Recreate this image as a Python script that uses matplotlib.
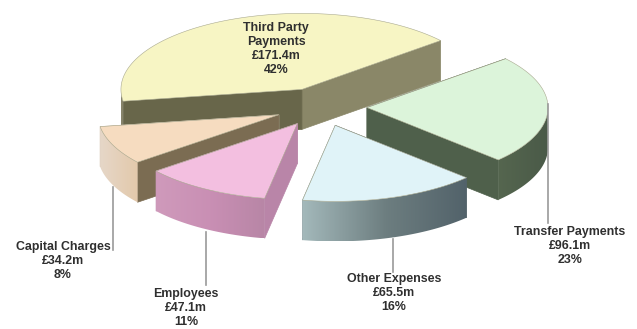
import numpy as np
import matplotlib
matplotlib.use("Agg")
import matplotlib.pyplot as plt
from matplotlib.colors import LinearSegmentedColormap
from matplotlib.patches import Polygon

categories = ["Third Party\nPayments", "Capital Charges", "Employees", "Other Expenses", "Transfer Payments"]
amounts = [171.4, 34.2, 47.1, 65.5, 96.1]
shares = [42, 8, 11, 16, 23]

top_colors = ["#f7f5c4", "#f6dcc0", "#f3bfe0", "#e0f3f8", "#dcf4da"]
# colours across the curved rim, left to right
rim_colors = [
    ["#86836a", "#86836a"],
    ["#e6d7c8", "#e3c9ab"],
    ["#cf9abb", "#c98fb4", "#b886a6"],
    ["#a3b8ba", "#6d7e80", "#52626a"],
    ["#55664f", "#4a5a48"],
]
# colours of the two straight cut faces: (clockwise edge, anticlockwise edge)
cut_colors = [
    ["#8a8768", "#68664a"],
    ["#d8c8b4", "#7b6c52"],
    ["#c79ab8", "#b985a8"],
    ["#8fa3a6", "#55656a"],
    ["#4f604b", "#4f604b"],
]
draw_order = [0, 4, 1, 2, 3]

center = np.array([321.0, 107.0])
rx, ry = 181.0, 76.0
depth = 40.0
explode = 46.0
start_angle = 40.0

fig = plt.figure(figsize=(6.37, 3.29), dpi=100)
ax = fig.add_axes([0, 0, 1, 1])
ax.set_xlim(0, 637)
ax.set_ylim(329, 0)
ax.axis("off")

total = sum(amounts)
spans = [a / total * 360 for a in amounts]
starts = start_angle + np.concatenate([[0], np.cumsum(spans)[:-1]])


def project(origin, angle_deg):
    t = np.radians(angle_deg)
    return origin + np.column_stack([rx * np.cos(t), -ry * np.sin(t)])


def gradient_face(points, colors):
    # horizontal gradient clipped to a polygon
    poly = Polygon(points, closed=True, fc="none", ec="none")
    ax.add_patch(poly)
    cmap = LinearSegmentedColormap.from_list("face", colors)
    x0, x1 = points[:, 0].min(), points[:, 0].max()
    y0, y1 = points[:, 1].min(), points[:, 1].max()
    im = ax.imshow(np.linspace(0, 1, 128)[None, :], cmap=cmap, aspect="auto",
                   extent=[x0, x1, y1, y0], zorder=poly.get_zorder())
    im.set_clip_path(poly)
    ax.set_xlim(0, 637)
    ax.set_ylim(329, 0)


def draw_wedge(i):
    mid = starts[i] + spans[i] / 2
    t = np.radians(mid)
    apex = center + explode * np.array([np.cos(t), -np.sin(t) * ry / rx])
    angles = np.linspace(starts[i], starts[i] + spans[i], 120)
    arc = project(apex, angles)
    drop = np.array([0, depth])

    # cut faces
    first = project(apex, [starts[i]])[0]
    last = project(apex, [starts[i] + spans[i]])[0]
    for edge, color in zip([first, last], cut_colors[i]):
        face = np.array([apex, edge, edge + drop, apex + drop])
        ax.add_patch(Polygon(face, closed=True, fc=color, ec=color, lw=0.5))

    # curved rim, front half only
    sweep = np.sin(np.radians(angles)) < 0
    if sweep.any():
        front = arc[sweep]
        rim = np.vstack([front, (front + drop)[::-1]])
        gradient_face(rim, rim_colors[i])

    top = np.vstack([apex, arc])
    ax.add_patch(Polygon(top, closed=True, fc=top_colors[i], ec="#a9a98f", lw=0.4))


for i in draw_order:
    draw_wedge(i)

leader_color = "#9a9a9a"
ax.plot([113, 113], [187, 250], color=leader_color, lw=1.2)
ax.plot([206, 206], [232, 285], color=leader_color, lw=1.2)
ax.plot([393, 393], [239, 272], color=leader_color, lw=1.2)
ax.plot([548, 548], [104, 223], color=leader_color, lw=1.2)

label_pos = [(276, 49), (63, 261), (186, 308), (394, 293), (570, 246)]
for name, amount, share, (x, y) in zip(categories, amounts, shares, label_pos):
    ax.text(x, y, f"{name}\n£{amount}m\n{share}%", ha="center", va="center",
            fontsize=8.9, fontweight="bold", family="Liberation Sans",
            color="#2f2f2f", linespacing=1.2)

fig.savefig("out.png", dpi=100)
